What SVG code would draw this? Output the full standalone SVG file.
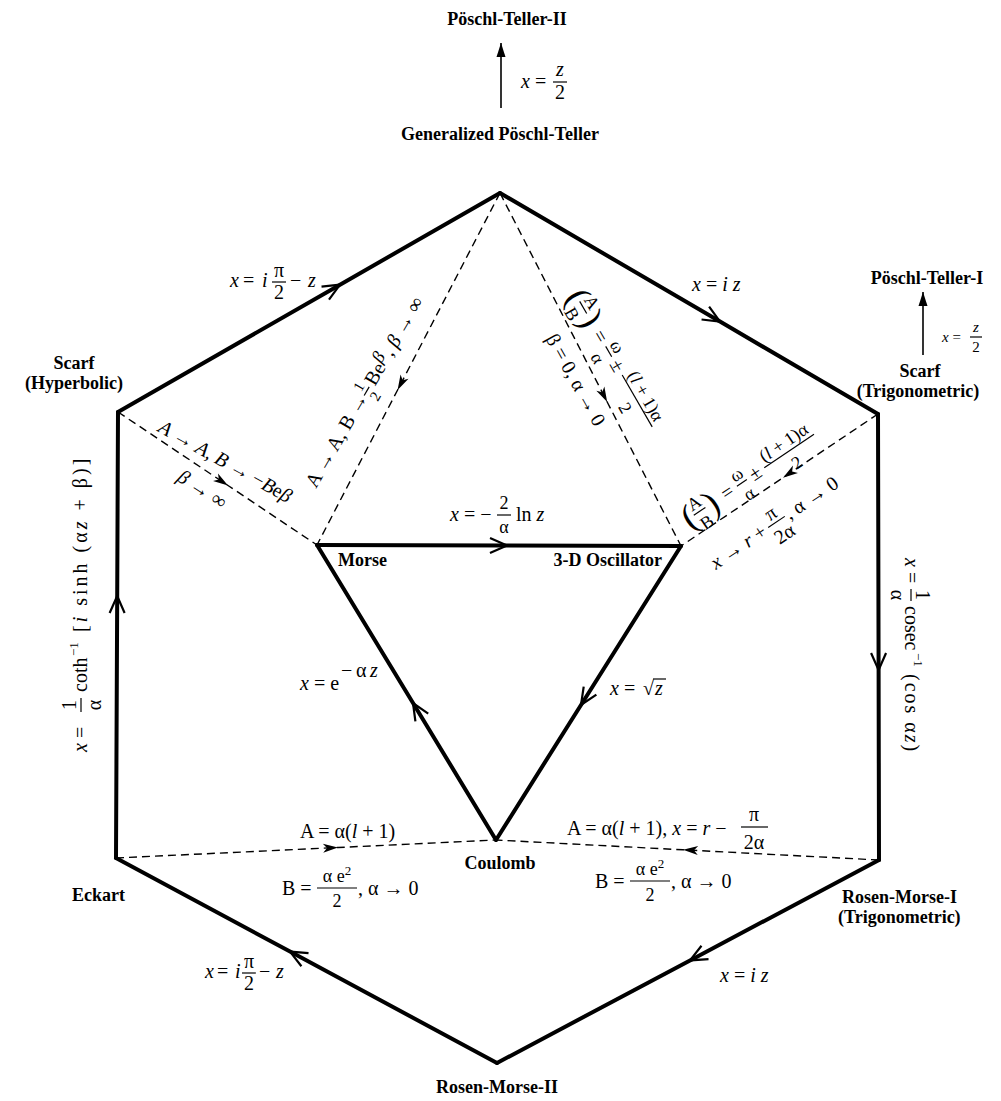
<svg xmlns="http://www.w3.org/2000/svg" width="1001" height="1101" viewBox="0 0 1001 1101">
<style>
text{font-family:"Liberation Serif","Times New Roman",serif;font-size:20px;fill:#000}
.b{font-weight:bold;font-size:18px}
.i{font-style:italic}
.fr{font-size:18px}
.sm{font-size:15px}
.sup{font-size:13px}
.par{font-size:36px}
.thick{fill:none;stroke:#000;stroke-width:4;stroke-linecap:round;stroke-linejoin:round}
.dash{fill:none;stroke:#000;stroke-width:1.4;stroke-dasharray:8 5}
.bar{stroke:#000;stroke-width:1.2}
.thin{fill:none;stroke:#000;stroke-width:1.6}
</style>
<defs>
<marker id="chev" markerUnits="userSpaceOnUse" markerWidth="40" markerHeight="40" viewBox="-20 -20 40 40" refX="0" refY="0" orient="auto" overflow="visible"><path d="M-17,-7.5 L0,0 L-17,7.5" fill="none" stroke="#000" stroke-width="2.2"/></marker>
<marker id="tri" markerUnits="userSpaceOnUse" markerWidth="40" markerHeight="40" viewBox="-20 -20 40 40" refX="0" refY="0" orient="auto" overflow="visible"><path d="M-15,-4.5 L0,0 L-15,4.5 L-11,0 Z" fill="#000"/></marker>
<marker id="head" markerUnits="userSpaceOnUse" markerWidth="40" markerHeight="40" viewBox="-20 -20 40 40" refX="0" refY="0" orient="auto" overflow="visible"><path d="M-14,-4.5 L0,0 L-14,4.5 Z" fill="#000"/></marker>
</defs>

<g id="connectors">
<path class="thick" d="M118,412 L340,284.7 L500,193" marker-mid="url(#chev)"/>
<path class="thick" d="M500,193 L720,321.6 L878,414" marker-mid="url(#chev)"/>
<path class="thick" d="M878,414 L878.6,670 L879,860" marker-mid="url(#chev)"/>
<path class="thick" d="M879,860 L690,960.4 L497,1063" marker-mid="url(#chev)"/>
<path class="thick" d="M497,1063 L290,951.6 L116,858" marker-mid="url(#chev)"/>
<path class="thick" d="M116,858 L117.2,596 L118,412" marker-mid="url(#chev)"/>
<path class="thick" d="M317,545 L507,545.5 L681,546" marker-mid="url(#chev)"/>
<path class="thick" d="M681,546 L581,705 L496,840" marker-mid="url(#chev)"/>
<path class="thick" d="M496,840 L413,703 L317,545" marker-mid="url(#chev)"/>
<path class="dash" d="M118,412 L228,485.5 L317,545" marker-mid="url(#tri)"/>
<path class="dash" d="M500,193 L397.6,390 L317,545" marker-mid="url(#tri)"/>
<path class="dash" d="M500,193 L607.2,402 L681,546" marker-mid="url(#tri)"/>
<path class="dash" d="M878,414 L783,477.7 L681,546" marker-mid="url(#tri)"/>
<path class="dash" d="M116,858 L338,847.5 L496,840" marker-mid="url(#tri)"/>
<path class="dash" d="M879,860 L683,849.8 L496,840" marker-mid="url(#tri)"/>
<line class="thin" x1="501" y1="108" x2="501" y2="43" marker-end="url(#head)"/>
<line class="thin" x1="923" y1="355" x2="923" y2="292" marker-end="url(#head)"/>
</g>

<g id="node-poschl-teller-2"><text class="b" x="507" y="25" text-anchor="middle">Pöschl-Teller-II</text></g>
<g id="node-generalized-poschl-teller"><text class="b" x="500" y="140" text-anchor="middle">Generalized Pöschl-Teller</text></g>
<g id="node-poschl-teller-1"><text class="b" x="927" y="284" text-anchor="middle">Pöschl-Teller-I</text></g>
<g id="node-scarf-trig"><text class="b" x="920" y="377" text-anchor="middle">Scarf</text><text class="b" x="918" y="397" text-anchor="middle">(Trigonometric)</text></g>
<g id="node-scarf-hyp"><text class="b" x="74" y="369" text-anchor="middle">Scarf</text><text class="b" x="74" y="389" text-anchor="middle">(Hyperbolic)</text></g>
<g id="node-morse"><text class="b" x="338" y="566">Morse</text></g>
<g id="node-oscillator"><text class="b" x="662" y="566" text-anchor="end">3-D Oscillator</text></g>
<g id="node-coulomb"><text class="b" x="500" y="869" text-anchor="middle">Coulomb</text></g>
<g id="node-eckart"><text class="b" x="125" y="901" text-anchor="end">Eckart</text></g>
<g id="node-rosen-morse-1"><text class="b" x="842" y="903">Rosen-Morse-I</text><text class="b" x="838" y="923">(Trigonometric)</text></g>
<g id="node-rosen-morse-2"><text class="b" x="497" y="1093" text-anchor="middle">Rosen-Morse-II</text></g>

<g id="edge-labels">
<text x="521" y="88"><tspan class="i">x</tspan> =</text>
<text class="i" x="560" y="76" text-anchor="middle">z</text>
<line class="bar" x1="553" y1="82" x2="567" y2="82"/>
<text x="560" y="99" text-anchor="middle">2</text>
<text class="sm" x="942" y="342"><tspan class="i">x</tspan> =</text>
<text class="sm i" x="976" y="332" text-anchor="middle">z</text>
<line class="bar" x1="970" y1="337" x2="982" y2="337"/>
<text class="sm" x="976" y="352" text-anchor="middle">2</text>
<text x="230" y="287"><tspan class="i">x</tspan></text>
<text x="243" y="287">=</text>
<text class="i" x="262" y="287">i</text>
<text x="279" y="277" text-anchor="middle">π</text>
<line class="bar" x1="272" y1="282" x2="286" y2="282"/>
<text x="279" y="299" text-anchor="middle">2</text>
<text x="290" y="287">−</text>
<text class="i" x="308" y="287">z</text>
<text x="692" y="291"><tspan class="i">x</tspan> = <tspan class="i">i z</tspan></text>
<text x="450" y="521"><tspan class="i">x</tspan> = −</text>
<text class="fr" x="504" y="509" text-anchor="middle">2</text>
<line class="bar" x1="497" y1="515" x2="511" y2="515"/>
<text class="fr" x="504" y="533" text-anchor="middle">α</text>
<text x="516" y="521">ln <tspan class="i">z</tspan></text>
<text x="300" y="690"><tspan class="i">x</tspan> = e</text>
<text x="341" y="677">−</text>
<text x="356" y="677">α</text>
<text class="i" x="370" y="677">z</text>
<text x="610" y="695"><tspan class="i">x</tspan> =</text>
<text x="643" y="695">√</text>
<line class="bar" x1="653" y1="679" x2="666" y2="679"/>
<text class="i" x="655" y="695">z</text>
<text x="300" y="838">A = α(<tspan class="i">l</tspan> + 1)</text>
<text x="282" y="895">B =</text>
<text class="fr" x="337" y="882" text-anchor="middle">α e<tspan class="sup" dy="-7">2</tspan></text>
<line class="bar" x1="317" y1="888" x2="357" y2="888"/>
<text class="fr" x="337" y="907" text-anchor="middle">2</text>
<text x="358" y="895">, α → 0</text>
<text x="567" y="835">A = α(<tspan class="i">l</tspan> + 1), <tspan class="i">x</tspan> = <tspan class="i">r</tspan> −</text>
<text x="754" y="821" text-anchor="middle">π</text>
<line class="bar" x1="741" y1="827" x2="768" y2="827"/>
<text x="754" y="849" text-anchor="middle">2α</text>
<text x="595" y="888">B =</text>
<text class="fr" x="650" y="875" text-anchor="middle">α e<tspan class="sup" dy="-7">2</tspan></text>
<line class="bar" x1="630" y1="881" x2="670" y2="881"/>
<text class="fr" x="650" y="901" text-anchor="middle">2</text>
<text x="671" y="888">, α → 0</text>
<text x="205" y="978"><tspan class="i">x</tspan></text>
<text x="217" y="978">=</text>
<text class="i" x="235" y="978">i</text>
<text x="249" y="968" text-anchor="middle">π</text>
<line class="bar" x1="242" y1="973" x2="256" y2="973"/>
<text x="249" y="990" text-anchor="middle">2</text>
<text x="259" y="978">−</text>
<text class="i" x="276" y="978">z</text>
<text x="720" y="982"><tspan class="i">x</tspan> = <tspan class="i">i z</tspan></text>
<g transform="translate(87,752) rotate(-90)">
<text x="0" y="0"><tspan class="i">x</tspan> =</text>
<text x="47" y="-11" text-anchor="middle">1</text>
<line class="bar" x1="40" y1="-6" x2="54" y2="-6"/>
<text x="47" y="14" text-anchor="middle">α</text>
<text x="60" y="0">coth</text>
<text class="sup" x="96" y="-9">−1</text>
<text x="120" y="0" letter-spacing="3">[<tspan class="i">i</tspan> sinh (α<tspan class="i">z</tspan> + β)]</text>
</g>
<g transform="translate(905,558) rotate(90)">
<text x="0" y="0"><tspan class="i">x</tspan> =</text>
<text x="37" y="-11" text-anchor="middle">1</text>
<line class="bar" x1="31" y1="-6" x2="43" y2="-6"/>
<text x="37" y="14" text-anchor="middle">α</text>
<text x="48" y="0">cosec</text>
<text class="sup" x="95" y="-9">−1</text>
<text x="116" y="0" letter-spacing="2">(cos α<tspan class="i">z</tspan>)</text>
</g>
<g transform="translate(157,431) rotate(29)">
<text x="0" y="0"><tspan class="i">A</tspan> → <tspan class="i">A</tspan>, <tspan class="i">B</tspan> → −<tspan class="i">B</tspan>e<tspan class="i">β</tspan></text>
</g>
<g transform="translate(176,480) rotate(33)">
<text x="0" y="0"><tspan class="i">β</tspan> → ∞</text>
</g>
<g transform="translate(316,489) rotate(-60)">
<text x="0" y="0">A → A, B →</text>
<text class="sm" x="110" y="-9" text-anchor="middle">1</text>
<line class="bar" x1="105" y1="-5" x2="115" y2="-5"/>
<text class="sm" x="110" y="10" text-anchor="middle">2</text>
<text x="118" y="0">Be</text>
<text class="fr i" x="141" y="-6">β</text>
<text x="152" y="0">, <tspan class="i">β</tspan> → ∞</text>
</g>
<g transform="translate(572,300) rotate(60)">
<text class="par" x="-6" y="5">(</text>
<text class="fr" x="12" y="-10" text-anchor="middle">A</text>
<line class="bar" x1="5" y1="-6" x2="19" y2="-6"/>
<text class="fr" x="12" y="13" text-anchor="middle">B</text>
<text class="par" x="20" y="5">)</text>
<text x="40" y="0">=</text>
<text class="fr" x="63" y="-10" text-anchor="middle">ω</text>
<line class="bar" x1="57" y1="-6" x2="69" y2="-6"/>
<text class="fr" x="63" y="13" text-anchor="middle">α</text>
<text x="74" y="0">±</text>
<text class="fr" x="120" y="-10" text-anchor="middle">(<tspan class="i">l</tspan> + 1)α</text>
<line class="bar" x1="90" y1="-6" x2="150" y2="-6"/>
<text class="fr" x="120" y="14" text-anchor="middle">2</text>
</g>
<g transform="translate(570,383) rotate(61)">
<text x="0" y="0" text-anchor="middle">β = 0, α → 0</text>
</g>
<g transform="translate(693,523) rotate(-34)">
<text class="par" x="-6" y="5">(</text>
<text class="fr" x="12" y="-10" text-anchor="middle">A</text>
<line class="bar" x1="5" y1="-6" x2="19" y2="-6"/>
<text class="fr" x="12" y="13" text-anchor="middle">B</text>
<text class="par" x="20" y="5">)</text>
<text x="40" y="0">=</text>
<text class="fr" x="63" y="-10" text-anchor="middle">ω</text>
<line class="bar" x1="57" y1="-6" x2="69" y2="-6"/>
<text class="fr" x="63" y="13" text-anchor="middle">α</text>
<text x="74" y="0">±</text>
<text class="fr" x="120" y="-10" text-anchor="middle">(<tspan class="i">l</tspan> + 1)α</text>
<line class="bar" x1="90" y1="-6" x2="150" y2="-6"/>
<text class="fr" x="120" y="14" text-anchor="middle">2</text>
</g>
<g transform="translate(716,570) rotate(-34)">
<text x="0" y="0"><tspan class="i">x</tspan> → <tspan class="i">r</tspan> +</text>
<text x="77" y="-10" text-anchor="middle">π</text>
<line class="bar" x1="67" y1="-6" x2="87" y2="-6"/>
<text x="77" y="15" text-anchor="middle">2α</text>
<text x="89" y="0">, α → 0</text>
</g>
</g>
</svg>
